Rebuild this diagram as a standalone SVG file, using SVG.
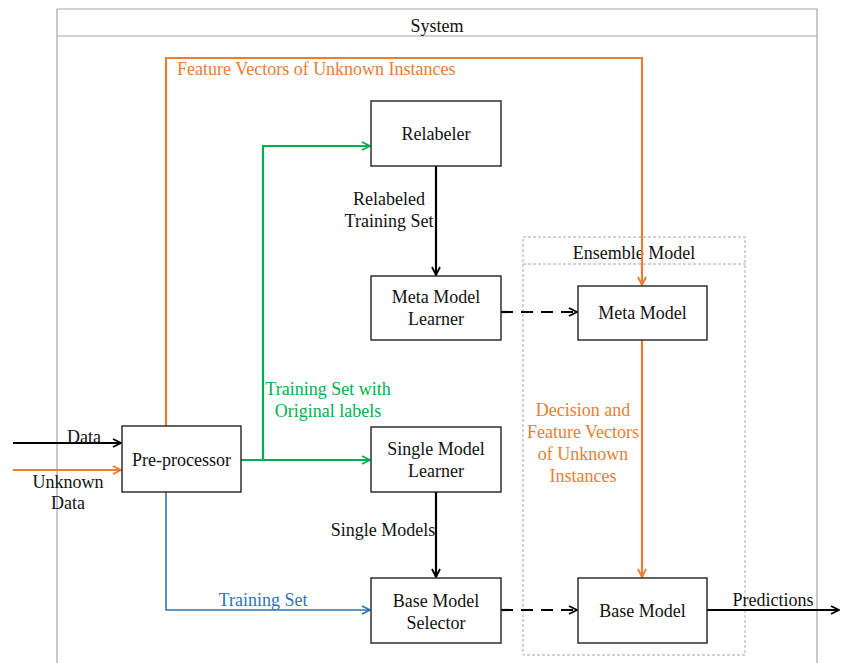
<svg xmlns="http://www.w3.org/2000/svg" width="842" height="663" viewBox="0 0 842 663" font-family="'Liberation Serif', 'Times New Roman', 'DejaVu Serif', serif">
<defs>
<marker id="ab" viewBox="0 0 10 10" refX="9" refY="5" markerWidth="10" markerHeight="10" markerUnits="userSpaceOnUse" orient="auto"><path d="M1,1 L9,5 L1,9" fill="none" stroke="#000" stroke-width="1.8"/></marker>
<marker id="ao" viewBox="0 0 10 10" refX="9" refY="5" markerWidth="10" markerHeight="10" markerUnits="userSpaceOnUse" orient="auto"><path d="M1,1 L9,5 L1,9" fill="none" stroke="#ED7D31" stroke-width="1.8"/></marker>
<marker id="ag" viewBox="0 0 10 10" refX="9" refY="5" markerWidth="10" markerHeight="10" markerUnits="userSpaceOnUse" orient="auto"><path d="M1,1 L9,5 L1,9" fill="none" stroke="#00B050" stroke-width="1.8"/></marker>
<marker id="al" viewBox="0 0 10 10" refX="9" refY="5" markerWidth="10" markerHeight="10" markerUnits="userSpaceOnUse" orient="auto"><path d="M1,1 L9,5 L1,9" fill="none" stroke="#2E75B6" stroke-width="1.8"/></marker>
</defs>
<style>
text{font-family:'Liberation Serif','Times New Roman','DejaVu Serif',serif;font-size:18px;fill:#111;}
.c{text-anchor:middle;}
.or{fill:#ED7D31;}
.gr{fill:#00B050;}
.bl{fill:#2E75B6;}
.box{fill:#fff;stroke:#222;stroke-width:1.4;}
.k{fill:none;stroke:#000;stroke-width:2.2;}
.o{fill:none;stroke:#ED7D31;stroke-width:2.2;}
.g{fill:none;stroke:#00B050;stroke-width:2.2;}
.b{fill:none;stroke:#2E75B6;stroke-width:1.6;}
.d{fill:none;stroke:#000;stroke-width:2.2;stroke-dasharray:12,8;}
</style>
<rect width="842" height="663" fill="#fff"/>
<g id="system">
<path d="M57,663 V9 H817 V663" fill="none" stroke="#A6A6A6" stroke-width="1.2"/>
<line x1="57" y1="36" x2="817" y2="36" stroke="#A6A6A6" stroke-width="1.2"/>
<text class="c" x="437" y="32">System</text>
</g>
<g id="ensemble">
<rect x="523" y="237" width="222" height="418" fill="none" stroke="#aaa" stroke-width="1" stroke-dasharray="3,2"/>
<line x1="523" y1="264" x2="745" y2="264" stroke="#aaa" stroke-width="1" stroke-dasharray="3,2"/>
<text class="c" x="634" y="259">Ensemble Model</text>
</g>
<g id="connectors">
<path class="o" d="M166,426 V58 H642 V285" marker-end="url(#ao)"/>
<text class="or" x="177" y="75">Feature Vectors of Unknown Instances</text>
<path class="g" d="M241,460 H263 V146 H370" marker-end="url(#ag)"/>
<path class="g" d="M263,460 H370" marker-end="url(#ag)"/>
<text class="c gr" x="328" y="395">Training Set with</text>
<text class="c gr" x="328" y="417">Original labels</text>
<path class="k" d="M436,166 V275" marker-end="url(#ab)"/>
<text class="c" x="389" y="205">Relabeled</text>
<text class="c" x="389" y="227">Training Set</text>
<path class="d" d="M501,312 H577" marker-end="url(#ab)"/>
<path class="o" d="M642,340 V577" marker-end="url(#ao)"/>
<text class="c or" x="583" y="416">Decision and</text>
<text class="c or" x="583" y="438">Feature Vectors</text>
<text class="c or" x="583" y="460">of Unknown</text>
<text class="c or" x="583" y="482">Instances</text>
<path class="k" d="M436,492 V577" marker-end="url(#ab)"/>
<text class="c" x="383" y="536">Single Models</text>
<path class="b" d="M166,492 V610 H370" marker-end="url(#al)"/>
<text class="c bl" x="263" y="606">Training Set</text>
<path class="d" d="M501,610 H577" marker-end="url(#ab)"/>
<path class="k" d="M707,610 H839" marker-end="url(#ab)"/>
<text class="c" x="773" y="606">Predictions</text>
<path class="k" d="M13,443 H121" marker-end="url(#ab)"/>
<text class="c" x="84" y="443">Data</text>
<path class="o" d="M13,470 H121" marker-end="url(#ao)"/>
<text class="c" x="68" y="488">Unknown</text>
<text class="c" x="68" y="509">Data</text>
</g>
<g id="preprocessor"><rect class="box" x="122" y="426" width="119" height="66"/><text class="c" x="181.5" y="466">Pre-processor</text></g>
<g id="relabeler"><rect class="box" x="371" y="101" width="130" height="65"/><text class="c" x="436" y="140">Relabeler</text></g>
<g id="metalearner"><rect class="box" x="371" y="276" width="130" height="64"/><text class="c" x="436" y="303">Meta Model</text><text class="c" x="436" y="325">Learner</text></g>
<g id="metamodel"><rect class="box" x="578" y="286" width="129" height="54"/><text class="c" x="642.5" y="319">Meta Model</text></g>
<g id="singlelearner"><rect class="box" x="371" y="427" width="130" height="65"/><text class="c" x="436" y="455">Single Model</text><text class="c" x="436" y="477">Learner</text></g>
<g id="selector"><rect class="box" x="371" y="578" width="130" height="65"/><text class="c" x="436" y="607">Base Model</text><text class="c" x="436" y="629">Selector</text></g>
<g id="basemodel"><rect class="box" x="578" y="578" width="129" height="65"/><text class="c" x="642.5" y="617">Base Model</text></g>
</svg>
